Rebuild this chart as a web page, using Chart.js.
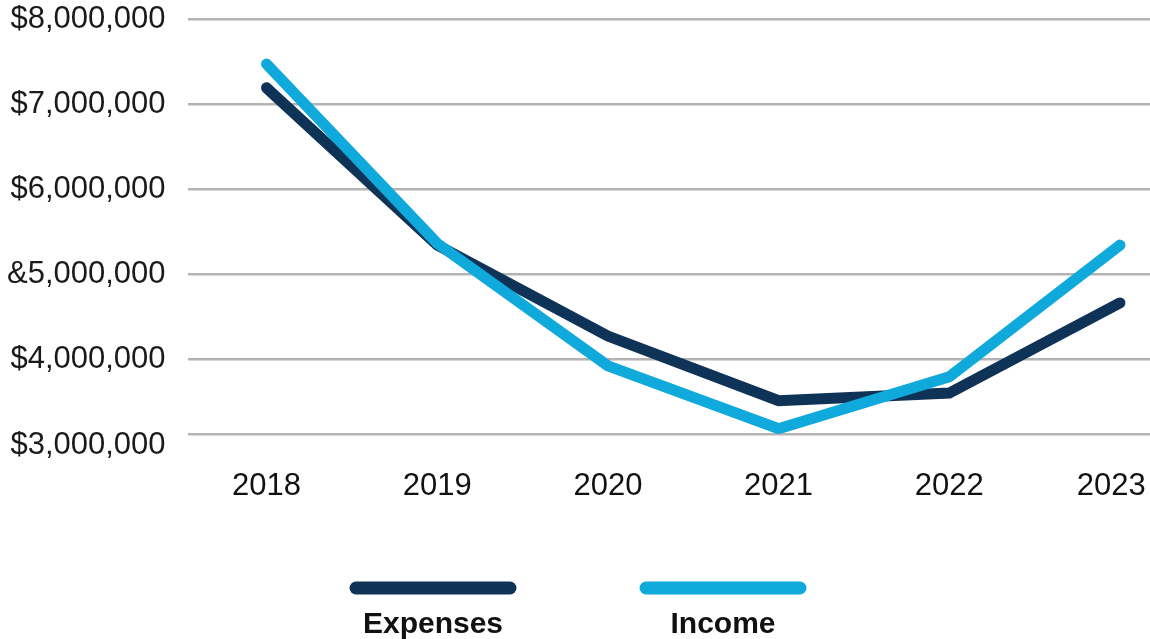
<!DOCTYPE html>
<html>
<head>
<meta charset="utf-8">
<title>Expenses and Income</title>
<script src="https://cdn.jsdelivr.net/npm/chart.js@4.4.1/dist/chart.umd.min.js"></script>
<style>
  html, body { margin: 0; padding: 0; background: #fff; }
  canvas { display: block; }
</style>
</head>
<body>
<canvas id="trendChart" width="1150" height="639"></canvas>
<script>
// values
const years = ['2018', '2019', '2020', '2021', '2022', '2023'];
const expenses = [7190000, 5340000, 4270000, 3510000, 3600000, 4660000];
const income = [7470000, 5360000, 3920000, 3180000, 3790000, 5340000];

// the bottom gridline sits a little above 3M in the original, label kept as printed
const yTickValues = [3120000, 4000000, 5000000, 6000000, 7000000, 8000000];
const yTickLabels = ['$3,000,000', '$4,000,000', '&5,000,000', '$6,000,000', '$7,000,000', '$8,000,000'];

const FONT = '"Liberation Sans", Arial, Helvetica, sans-serif';
const X_PAD = 34;
const Y_PAD = 22;

// legend: line sample above a bold label, items centred under the plot
const stackedLegend = {
  id: 'stackedLegend',
  afterDraw(chart) {
    const ctx = chart.ctx;
    const sets = chart.data.datasets;
    const gap = 290;
    const start = chart.width / 2 + 3 - gap * (sets.length - 1) / 2;
    ctx.save();
    sets.forEach(function (ds, i) {
      const x = start + i * gap;
      ctx.strokeStyle = ds.borderColor;
      ctx.lineWidth = 13;
      ctx.lineCap = 'round';
      ctx.beginPath();
      ctx.moveTo(x - 77, chart.height - 51);
      ctx.lineTo(x + 77, chart.height - 51);
      ctx.stroke();
      ctx.fillStyle = '#111';
      ctx.font = 'bold 30px ' + FONT;
      ctx.textAlign = 'center';
      ctx.textBaseline = 'alphabetic';
      ctx.fillText(ds.label, x, chart.height - 6);
    });
    ctx.restore();
  }
};

function toPoints(values) {
  return values.map(function (v, i) { return { x: i, y: v }; });
}

new Chart(document.getElementById('trendChart').getContext('2d'), {
  type: 'line',
  data: {
    datasets: [
      {
        label: 'Expenses',
        data: toPoints(expenses),
        borderColor: '#0f3357',
        order: 1
      },
      {
        label: 'Income',
        data: toPoints(income),
        borderColor: '#0fa9dc',
        order: 0
      }
    ]
  },
  options: {
    responsive: false,
    animation: false,
    layout: { padding: { top: 19, left: 7, right: 0, bottom: 134 } },
    elements: {
      line: {
        borderWidth: 11,
        tension: 0,
        borderCapStyle: 'round',
        borderJoinStyle: 'miter',
        fill: false
      },
      point: { radius: 0, hoverRadius: 0 }
    },
    plugins: {
      legend: { display: false },
      tooltip: { enabled: false }
    },
    scales: {
      x: {
        type: 'linear',
        min: -0.4625,
        max: 5.176,
        grid: { display: false, drawTicks: false },
        border: { display: false },
        afterBuildTicks: function (scale) {
          scale.ticks = years.map(function (y, i) { return { value: i }; });
        },
        afterFit: function (scale) {
          // chart.js pads both sides of the labels; keep only the gap above them
          scale.height -= X_PAD;
          scale.paddingLeft = 0;
          scale.paddingRight = 0;
        },
        ticks: {
          padding: X_PAD,
          color: '#111',
          font: { family: FONT, size: 31 },
          maxRotation: 0,
          autoSkip: false,
          callback: function (value) {
            const label = years[value];
            return value === years.length - 1 ? label + '  ' : label;
          }
        }
      },
      y: {
        min: 3120000,
        max: 8000000,
        grid: { color: '#b3b3b3', lineWidth: 2.5, drawTicks: false },
        border: { display: false },
        afterBuildTicks: function (scale) {
          scale.ticks = yTickValues.map(function (v) { return { value: v }; });
        },
        afterFit: function (scale) {
          scale.width -= Y_PAD;
          scale.paddingTop = 0;
          scale.paddingBottom = 0;
        },
        ticks: {
          padding: Y_PAD,
          color: '#1a1a1a',
          font: { family: FONT, size: 31, lineHeight: '24px' },
          autoSkip: false,
          callback: function (value) {
            const i = yTickValues.indexOf(value);
            // bottom label hangs below its gridline in the original
            return i === 0 ? ['', yTickLabels[i]] : yTickLabels[i];
          }
        }
      }
    }
  },
  plugins: [stackedLegend]
});
</script>
</body>
</html>
